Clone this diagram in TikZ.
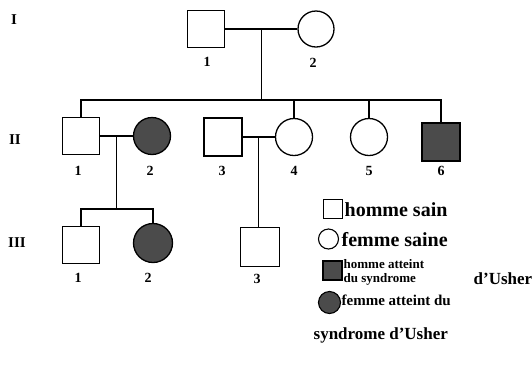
\documentclass[tikz,border=0pt]{standalone}
\usepackage{fontspec}
\setmainfont{Liberation Serif}
\usetikzlibrary{calc}
\definecolor{aff}{RGB}{75,75,75}
\begin{document}
\begin{tikzpicture}[x=1pt,y=-1pt,
  line width=1.3pt,
  male/.style={draw,rectangle,minimum size=37pt,inner sep=0pt},
  female/.style={draw,circle,minimum size=37pt,inner sep=0pt},
  affected/.style={fill=aff},
  num/.style={font=\fontsize{14}{14}\selectfont\bfseries,inner sep=0pt},
  gen/.style={font=\fontsize{15}{15}\selectfont\bfseries,inner sep=0pt},
  legsq/.style={draw,rectangle,minimum size=19pt,inner sep=0pt,line width=1.1pt},
  legci/.style={draw,circle,minimum size=20pt,inner sep=0pt,line width=1.1pt},
  legtxt/.style={anchor=west,inner sep=0pt,align=left,font=\bfseries}]
\useasboundingbox (0,0) rectangle (532,365);
% generation labels
\node[gen] (gI) at (14,20) {I};
\node[gen] (gII) at (15,140) {II};
\node[gen] (gIII) at (17,243) {III};
% generation I
\node[male] (I1) at (206,29) {};
\node[female,minimum size=36pt] (I2) at (316,29) {};
\node[num] (nI1) at (207,62) {1};
\node[num] (nI2) at (313,63) {2};
% generation II
\node[male] (II1) at (81,136) {};
\node[female,affected] (II2) at (152,136) {};
\node[male,minimum size=38pt] (II3) at (223,137) {};
\node[female] (II4) at (294,137) {};
\node[female] (II5) at (369,137) {};
\node[male,affected,minimum size=38pt] (II6) at (441,142) {};
\foreach \n/\x in {1/78,2/150,3/222,4/294,5/369,6/441}
  \node[num] (nII\n) at (\x,171) {\n};
% generation III
\node[male] (III1) at (81,245) {};
\node[female,affected,minimum size=39pt] (III2) at (153,243) {};
\node[male,minimum size=39pt] (III3) at (260,247) {};
\node[num] (nIII1) at (78,278) {1};
\node[num] (nIII2) at (148,278) {2};
\node[num] (nIII3) at (257,279) {3};
% connectors
\coordinate (m1) at ($(I1.east)!0.5!(I2.west)$);
\coordinate (sib1) at (m1 |- 0,100);
\draw (I1.east) -- (I2.west);
\draw (m1) -- (sib1);
\draw (II1.north) |- (sib1) -| (II6.north);
\draw (II4.north) -- (II4.north |- sib1);
\draw (II5.north) -- (II5.north |- sib1);
\coordinate (m2) at ($(II1.east)!0.5!(II2.west)$);
\coordinate (sib2) at (m2 |- 0,209);
\draw (II1.east) -- (II2.west);
\draw (m2) -- (sib2);
\draw (III1.north) |- (sib2) -| (III2.north);
\coordinate (m3) at ($(II3.east)!0.5!(II4.west)$);
\draw (II3.east) -- (II4.west);
\draw (m3) -- (m3 |- III3.north);
% legend
\node[legsq] (L1) at (333,209) {};
\node[legtxt,font=\fontsize{20}{20}\selectfont\bfseries] (T1) at (344,210) {homme sain};
\node[legci] (L2) at (328.5,239) {};
\node[legtxt,font=\fontsize{20}{20}\selectfont\bfseries] (T2) at (341,240) {femme saine};
\node[legsq,affected] (L3) at (332.5,270.5) {};
\node[legtxt,font=\fontsize{13}{13}\selectfont\bfseries] (T3) at (343,264) {homme atteint};
\node[legtxt,font=\fontsize{13}{13}\selectfont\bfseries] (T4) at (343,279) {du syndrome};
\node[legtxt,font=\fontsize{17}{17}\selectfont\bfseries] (T5) at (473,279) {d'Usher};
\node[legci,affected,minimum size=22pt] (L4) at (329.5,302.5) {};
\node[legtxt,font=\fontsize{15}{15}\selectfont\bfseries] (T6) at (341,300) {femme atteint du};
\node[legtxt,font=\fontsize{17}{17}\selectfont\bfseries] (T7) at (313,335) {syndrome d'Usher};
\end{tikzpicture}
\end{document}
